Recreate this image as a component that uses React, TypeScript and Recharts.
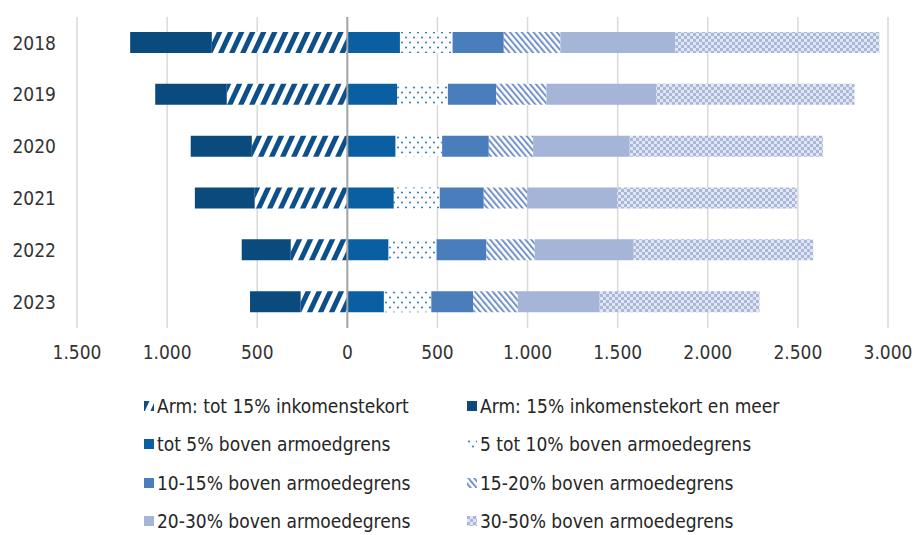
import React from "react";
import {
  BarChart,
  Bar,
  XAxis,
  YAxis,
  CartesianGrid,
  ReferenceLine,
} from "recharts";

// jaren en aantallen (negatief = arm)
const years = ["2018", "2019", "2020", "2021", "2022", "2023"];
const armTot15 = [-752, -669, -530, -514, -314, -259];
const armMeer = [-453, -397, -339, -332, -272, -281];
const boven5 = [292, 277, 268, 258, 229, 203];
const boven10 = [292, 281, 258, 255, 266, 263];
const boven15 = [284, 268, 259, 244, 277, 232];
const boven20 = [314, 279, 246, 241, 268, 248];
const boven30 = [638, 609, 536, 499, 549, 454];
const boven50 = [1132, 1100, 1072, 997, 996, 887];
const xTicks = [-1500, -1000, -500, 0, 500, 1000, 1500, 2000, 2500, 3000];

const series = [
  { key: "armTot15", name: "Arm: tot 15% inkomenstekort", fill: "url(#hatchNavy)", values: armTot15 },
  { key: "armMeer", name: "Arm: 15% inkomenstekort en meer", fill: "#0b4a7d", values: armMeer },
  { key: "boven5", name: "tot 5% boven armoedgrens", fill: "#0a5fa2", values: boven5 },
  { key: "boven10", name: "5 tot 10% boven armoedegrens", fill: "url(#dots)", values: boven10 },
  { key: "boven15", name: "10-15% boven armoedegrens", fill: "#4a7dbb", values: boven15 },
  { key: "boven20", name: "15-20% boven armoedegrens", fill: "url(#hatchLight)", values: boven20 },
  { key: "boven30", name: "20-30% boven armoedegrens", fill: "#a5b5d7", values: boven30 },
  { key: "boven50", name: "30-50% boven armoedegrens", fill: "url(#checker)", values: boven50 },
];

const data = years.map((year, i) => {
  const row: any = { year };
  series.forEach((s) => (row[s.key] = s.values[i]));
  return row;
});

const font = "'DejaVu Sans Condensed', 'DejaVu Sans', sans-serif";

const fmt = (v: number) =>
  String(Math.abs(v)).replace(/\B(?=(\d{3})+(?!\d))/g, ".");

const Patterns = () => (
  <svg width={0} height={0} style={{ position: "absolute" }}>
    <defs>
      <pattern id="hatchNavy" patternUnits="userSpaceOnUse" width="10" height="10" patternTransform="rotate(25)">
        <rect width="10" height="10" fill="#fff" />
        <rect width="5" height="10" fill="#0d4f88" />
      </pattern>
      <pattern id="hatchLight" patternUnits="userSpaceOnUse" width="4.5" height="4.5" patternTransform="rotate(-40)">
        <rect width="4.5" height="4.5" fill="#fff" />
        <rect width="2" height="4.5" fill="#7392c8" />
      </pattern>
      <pattern id="dots" patternUnits="userSpaceOnUse" width="8" height="10">
        <rect width="8" height="10" fill="#fff" />
        <circle cx="2" cy="2.5" r="1.1" fill="#3a7fc1" />
        <circle cx="6" cy="7.5" r="1.1" fill="#3a7fc1" />
      </pattern>
      <pattern id="checker" patternUnits="userSpaceOnUse" width="6" height="6">
        <rect width="6" height="6" fill="#e0e6f2" />
        <rect width="3" height="3" fill="#a8b7da" />
        <rect x="3" y="3" width="3" height="3" fill="#a8b7da" />
      </pattern>
    </defs>
  </svg>
);

const LegendBlock = () => (
  <div style={{ position: "absolute", left: 0, top: 0 }}>
    {series.map((s, i) => {
      const col = i % 2;
      const row = Math.floor(i / 2);
      return (
        <div
          key={s.key}
          style={{
            position: "absolute",
            left: col === 0 ? 144 : 467,
            top: 406 + row * 38.4 - 12,
            height: 24,
            display: "flex",
            alignItems: "center",
            whiteSpace: "nowrap",
            fontFamily: font,
            fontSize: 19,
            color: "#262626",
          }}
        >
          <svg width={10} height={10} style={{ marginRight: 3 }}>
            <rect width={10} height={10} fill={s.fill} />
          </svg>
          {s.name}
        </div>
      );
    })}
  </div>
);

export default function App() {
  return (
    <div style={{ position: "absolute", left: 0, top: 0, width: 919, height: 535, background: "#fff" }}>
      <Patterns />
      <BarChart
        width={919}
        height={372}
        data={data}
        layout="vertical"
        stackOffset="sign"
        barSize={21}
        margin={{ top: 17, right: 31, left: 0, bottom: 0 }}
      >
        <CartesianGrid horizontal={false} stroke="#d9d9d9" strokeWidth={1.5} />
        <XAxis
          type="number"
          domain={[-1500, 3000]}
          ticks={xTicks}
          tickFormatter={fmt}
          axisLine={false}
          tickLine={false}
          tickSize={0}
          tickMargin={18}
          height={44}
          tick={{ fontSize: 19, fontFamily: font, fill: "#333" }}
        />
        <YAxis
          type="category"
          dataKey="year"
          width={77}
          axisLine={false}
          tickLine={false}
          tickSize={0}
          tickMargin={21}
          tick={{ fontSize: 19, fontFamily: font, fill: "#333" }}
        />
        {series.map((s) => (
          <Bar
            key={s.key}
            dataKey={s.key}
            name={s.name}
            stackId="a"
            fill={s.fill}
            isAnimationActive={false}
          />
        ))}
        <ReferenceLine x={0} stroke="#a6a6a6" strokeWidth={2} />
      </BarChart>
      <LegendBlock />
    </div>
  );
}
